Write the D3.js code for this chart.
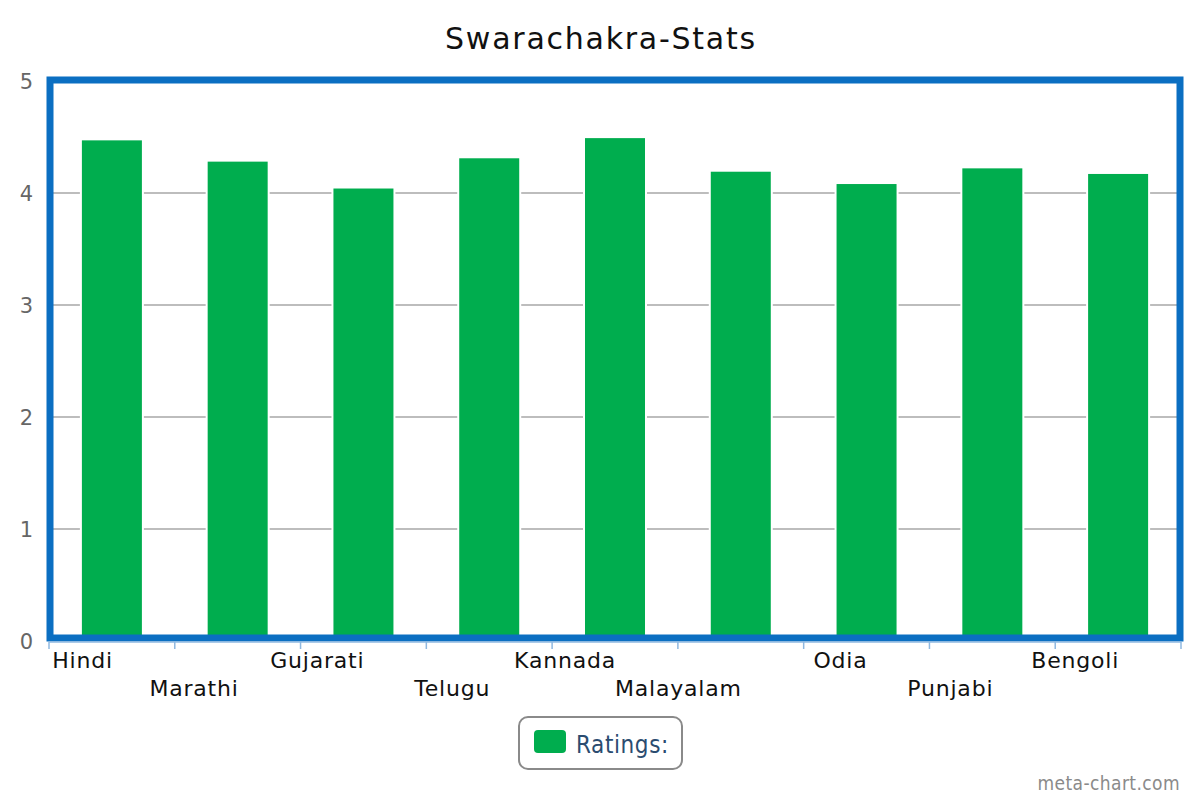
<!DOCTYPE html>
<html>
<head>
<meta charset="utf-8">
<script src="https://cdn.jsdelivr.net/npm/d3@7"></script>
<style>
  html, body { margin: 0; padding: 0; background: #fff; }
  svg { display: block; }
</style>
</head>
<body>
<svg id="chart" width="1200" height="800"></svg>
<script>
const categories = ["Hindi", "Marathi", "Gujarati", "Telugu", "Kannada", "Malayalam", "Odia", "Punjabi", "Bengoli"];
const ratings = [4.47, 4.28, 4.04, 4.31, 4.49, 4.19, 4.08, 4.22, 4.17];
const yTicks = [0, 1, 2, 3, 4, 5];
const seriesName = "Ratings:";
const titleText = "Swarachakra-Stats";

const svg = d3.select("#chart");
const plotLeft = 49, plotRight = 1181, plotTop = 81, plotBottom = 641;

const x = d3.scaleBand().domain(categories).range([plotLeft, plotRight]).paddingInner(0).paddingOuter(0);
const y = d3.scaleLinear().domain([0, 5]).range([plotBottom, plotTop]);

const green = "#00ad4e";
const blue = "#0b6fc2";

// title
svg.append("text")
  .attr("x", 601).attr("y", 49)
  .attr("text-anchor", "middle")
  .attr("font-family", "DejaVu Sans, Verdana, sans-serif")
  .attr("font-size", 30)
  .attr("letter-spacing", 1.75)
  .attr("fill", "#111")
  .text(titleText);

// gridlines
svg.append("g").selectAll("line")
  .data(yTicks.filter(d => d > 0 && d < 5))
  .join("line")
  .attr("x1", plotLeft + 4).attr("x2", plotRight - 4)
  .attr("y1", d => y(d)).attr("y2", d => y(d))
  .attr("stroke", "#bdbdbd").attr("stroke-width", 2);

// y tick labels
svg.append("g").selectAll("text")
  .data(yTicks)
  .join("text")
  .attr("x", 33).attr("y", d => y(d))
  .attr("dy", "0.36em")
  .attr("text-anchor", "end")
  .attr("font-family", "DejaVu Sans, Verdana, sans-serif")
  .attr("font-size", 21)
  .attr("fill", "#666")
  .text(d => d);

// bars with white halo
const bw = 60;
const bars = svg.append("g");
bars.selectAll("rect.halo")
  .data(categories)
  .join("rect")
  .attr("class", "halo")
  .attr("x", d => x(d) + x.bandwidth() / 2 - bw / 2 - 2)
  .attr("width", bw + 4)
  .attr("y", (d, i) => y(ratings[i]) - 2)
  .attr("height", (d, i) => y(0) - y(ratings[i]) + 2)
  .attr("fill", "#fff");
bars.selectAll("rect.bar")
  .data(categories)
  .join("rect")
  .attr("class", "bar")
  .attr("x", d => x(d) + x.bandwidth() / 2 - bw / 2)
  .attr("width", bw)
  .attr("y", (d, i) => y(ratings[i]))
  .attr("height", (d, i) => y(0) - y(ratings[i]))
  .attr("fill", green);

// plot border
svg.append("rect")
  .attr("x", 50).attr("y", 80)
  .attr("width", 1130).attr("height", 558)
  .attr("fill", "none")
  .attr("stroke", blue)
  .attr("stroke-width", 7);

// x axis line and ticks
const axisY = 642;
svg.append("line")
  .attr("x1", plotLeft).attr("x2", plotRight)
  .attr("y1", axisY).attr("y2", axisY)
  .attr("stroke", "#8fb8e0").attr("stroke-width", 1.5);
const tickPos = categories.map(d => x(d)).concat([plotRight]);
svg.append("g").selectAll("line")
  .data(tickPos)
  .join("line")
  .attr("x1", d => d).attr("x2", d => d)
  .attr("y1", axisY).attr("y2", axisY + 7)
  .attr("stroke", "#8fb8e0").attr("stroke-width", 1.5);

// x labels (alternating rows, right-aligned at band centre)
svg.append("g").selectAll("text")
  .data(categories)
  .join("text")
  .attr("x", d => x(d) + x.bandwidth() / 2 + 1)
  .attr("y", (d, i) => i % 2 === 0 ? 668 : 696)
  .attr("text-anchor", "end")
  .attr("font-family", "DejaVu Sans, Verdana, sans-serif")
  .attr("font-size", 22)
  .attr("letter-spacing", 0.8)
  .attr("fill", "#111")
  .text(d => d);

// legend
const lg = svg.append("g");
lg.append("rect")
  .attr("x", 519).attr("y", 717)
  .attr("width", 163).attr("height", 52)
  .attr("rx", 9).attr("ry", 9)
  .attr("fill", "#fff")
  .attr("stroke", "#8a8a8a").attr("stroke-width", 2);
lg.append("rect")
  .attr("x", 534).attr("y", 730)
  .attr("width", 32).attr("height", 23)
  .attr("rx", 4).attr("ry", 4)
  .attr("fill", green);
lg.append("text")
  .attr("x", 576).attr("y", 753)
  .attr("font-family", "'Liberation Sans Narrow', 'DejaVu Sans Condensed', sans-serif")
  .attr("font-size", 24)
  .attr("letter-spacing", 0.6)
  .attr("fill", "#2b4c70")
  .text(seriesName);

// watermark
svg.append("text")
  .attr("x", 1180).attr("y", 790)
  .attr("text-anchor", "end")
  .attr("font-family", "'Liberation Sans Narrow', 'DejaVu Sans Condensed', sans-serif")
  .attr("font-size", 19)
  .attr("letter-spacing", 0.4)
  .attr("fill", "#8a8a8a")
  .text("meta-chart.com");
</script>
</body>
</html>
